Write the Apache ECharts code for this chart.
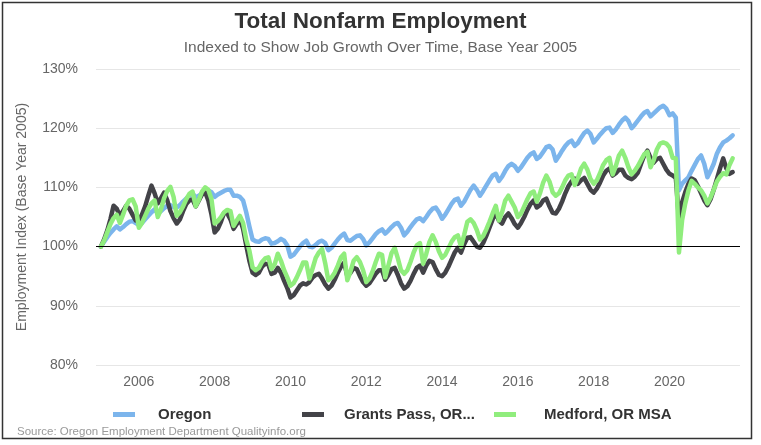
<!DOCTYPE html>
<html>
<head>
<meta charset="utf-8">
<title>Total Nonfarm Employment</title>
<script src="https://cdn.jsdelivr.net/npm/echarts@6/dist/echarts.min.js"></script>
<style>
  html, body { margin: 0; padding: 0; background: #fff; }
  #chart { width: 761px; height: 445px; }
</style>
</head>
<body>
<div id="chart"></div>
<script>
// monthly index values, Jan 2005 .. Sep 2021 (one row per year)
const oregon = [
  100.0, 100.8, 101.6, 102.3, 102.9, 103.4, 102.9, 103.3, 103.8, 104.2, 104.3, 104.0,
  103.6, 104.0, 104.6, 105.2, 105.8, 106.3, 105.6, 106.0, 106.5, 106.9, 107.0, 106.7,
  106.6, 107.0, 107.6, 108.1, 108.6, 109.0, 108.3, 108.6, 109.0, 109.4, 109.5, 109.2,
  108.4, 108.8, 109.1, 109.4, 109.6, 109.6, 108.6, 108.6, 108.4, 107.8, 105.8, 103.4,
  101.2, 100.9, 100.8, 101.2, 101.4, 101.3, 100.5, 100.6, 100.9, 101.3, 101.0, 100.2,
  98.3, 98.6, 99.3, 100.0, 100.6, 101.0, 100.0, 99.9, 100.3, 100.8, 101.0, 100.6,
  99.4, 99.8, 100.5, 101.2, 101.8, 102.2, 101.1, 101.0, 101.4, 101.8, 101.9, 101.3,
  100.2, 100.7, 101.4, 102.1, 102.6, 102.9, 102.2, 102.7, 103.3, 103.8, 104.0, 103.2,
  101.9, 102.5, 103.3, 104.0, 104.6, 104.8, 104.3, 105.0, 105.8, 106.4, 106.6, 105.8,
  104.7, 105.4, 106.3, 107.2, 107.9, 108.1, 106.9, 107.6, 108.6, 109.6, 110.3, 109.6,
  108.6, 109.4, 110.3, 111.2, 112.0, 112.3, 111.1, 111.8, 112.8, 113.6, 114.0, 113.6,
  112.8, 113.4, 114.2, 115.0, 115.6, 115.9, 114.8, 115.2, 116.0, 116.8, 117.0, 116.4,
  114.5, 115.3, 116.2, 117.0, 117.6, 117.9, 117.0, 117.5, 118.4, 119.2, 119.6, 119.0,
  117.6, 118.2, 118.9, 119.5, 120.0, 120.1, 119.2, 119.8, 120.6, 121.3, 121.8, 121.2,
  120.0, 120.6, 121.3, 122.0, 122.6, 122.9, 122.0, 122.5, 123.0, 123.5, 123.8, 123.3,
  122.2, 122.5, 121.8, 109.5, 110.6, 111.2, 111.7, 112.8, 113.8, 114.8, 115.4, 114.0,
  111.7, 112.8, 114.0, 115.7, 116.8, 117.6, 117.9, 118.3, 118.8
];
const grantsPass = [
  100.0, 101.2, 102.7, 104.6, 106.9, 106.4, 105.2, 106.0, 106.9, 106.4, 105.4, 104.4,
  104.4, 105.4, 106.8, 108.6, 110.3, 109.0, 107.3, 108.2, 109.1, 107.8, 106.0, 104.8,
  103.9, 104.6, 106.0, 107.2, 107.8, 108.0, 106.8, 107.8, 108.8, 109.2, 107.8, 105.4,
  102.4, 103.0, 104.2, 105.7, 105.6, 104.6, 103.0, 103.8, 104.7, 103.0, 100.2, 97.6,
  95.6, 95.2, 95.6, 96.6, 97.1, 97.0, 95.4, 95.6, 96.4, 95.6, 94.2, 93.0,
  91.4, 91.8, 92.6, 93.4, 93.8, 93.6, 94.0, 94.8, 95.2, 95.4, 94.6, 93.6,
  92.9, 93.4, 94.4, 95.6, 96.6, 97.3, 95.0, 95.6, 96.4, 96.2, 95.0, 94.0,
  93.4, 93.8, 94.6, 95.4, 96.0, 96.0, 94.4, 95.2, 96.2, 96.4, 95.2, 93.8,
  92.9, 93.3, 94.2, 95.4, 96.4, 96.8, 95.6, 96.8, 97.6, 97.4, 96.2, 95.2,
  95.0, 95.6, 96.6, 97.8, 99.0, 99.8, 99.0, 100.4, 101.5, 101.6, 100.8, 100.0,
  99.8, 100.6, 101.8, 103.2, 104.6, 105.7, 104.4, 103.9, 105.0, 105.6, 104.8, 103.8,
  103.2, 104.0, 105.0, 106.2, 107.2, 107.8, 106.6, 107.0, 107.8, 108.1, 106.8, 105.7,
  105.6, 106.4, 107.6, 109.0, 110.2, 111.0, 111.5, 110.6, 111.2, 111.6, 110.6, 109.6,
  109.1, 109.8, 110.8, 112.0, 112.8, 113.2, 112.0, 112.4, 113.0, 113.0, 112.0, 111.6,
  111.4, 111.8, 112.5, 114.0, 115.4, 116.2, 115.0, 114.2, 114.8, 115.0, 114.0, 113.0,
  112.3, 112.0, 111.6, 104.5, 107.5, 109.2, 110.6, 111.5, 111.2, 110.2, 109.0, 107.8,
  107.0, 108.0, 109.6, 111.4, 113.2, 114.9, 113.2, 112.3, 112.6
];
const medford = [
  100.0, 101.0, 102.4, 103.8, 104.8, 105.4, 104.0, 105.4, 106.9, 107.8, 108.0, 106.8,
  103.2, 104.0, 105.2, 106.4, 107.3, 107.8, 105.0, 106.3, 108.2, 109.4, 110.1, 108.4,
  105.2, 105.8, 106.8, 108.0, 108.9, 109.3, 106.8, 107.9, 109.3, 110.0, 109.6, 108.0,
  103.9, 104.3, 105.0, 105.8, 106.2, 106.0, 103.5, 104.4, 105.2, 104.0, 101.2, 99.3,
  96.5, 96.0, 96.4, 97.4, 98.0, 98.2, 96.2, 97.0, 98.8, 97.6, 96.0, 94.8,
  93.4, 93.8, 94.8, 96.0, 97.3, 97.3, 94.6, 96.3, 98.1, 99.0, 99.6, 97.2,
  94.3, 94.8, 95.6, 96.8, 98.2, 98.8, 94.3, 95.8, 97.6, 98.2, 97.4, 96.0,
  94.0, 94.6, 95.8, 97.4, 98.8, 98.6, 94.8, 96.8, 98.9, 99.8, 98.0, 96.0,
  95.4, 96.0, 97.4, 99.0, 100.2, 100.6, 97.1, 98.8, 100.8, 101.9, 100.8, 99.2,
  98.1, 98.6, 99.7, 100.8, 101.6, 101.9, 100.0, 102.0, 104.2, 104.6, 104.0, 102.8,
  101.2, 101.8, 102.9, 104.2, 105.6, 106.9, 104.4, 105.8, 107.8, 108.6, 107.6, 106.6,
  105.0, 105.6, 106.8, 108.0, 109.0, 109.3, 107.6, 109.0, 110.8, 112.0, 111.0, 109.2,
  108.6, 109.0, 110.0, 111.2, 112.0, 112.2, 110.4, 111.6, 113.2, 114.0, 113.0, 111.4,
  110.6, 111.2, 112.4, 113.8, 114.6, 115.0, 112.2, 113.6, 115.4, 116.2, 115.0, 113.4,
  112.2, 112.8, 113.6, 114.6, 115.6, 116.0, 113.4, 114.6, 116.4, 117.4, 117.6, 117.4,
  116.8, 115.0, 114.9, 99.0, 104.5, 107.3, 109.5, 111.1, 110.6, 110.0, 109.5, 108.6,
  107.3, 108.3, 109.6, 111.0, 111.8, 112.4, 112.2, 113.8, 114.9
];
const startYear = 2005;
const yearTicks = [2006, 2008, 2010, 2012, 2014, 2016, 2018, 2020];
const seriesNames = ['Oregon', 'Grants Pass, OR MSA', 'Medford, OR MSA'];
const legendLabels = ['Oregon', 'Grants Pass, OR...', 'Medford, OR MSA'];
const colors = ['#7cb5ec', '#434348', '#90ed7d'];

// month index -> decimal year on the x axis
const toPoints = (vals) => vals.map((v, i) => [startYear + i / 12, v]);

const myChart = echarts.init(document.getElementById('chart'));
const font = 'Liberation Sans, Arial, Helvetica, sans-serif';

// one legend per item so each sits at its own fixed slot
const legendLeft = [108, 297, 489];
const legendPad = [18, 15, 23];
const legends = seriesNames.map((name, k) => ({
  left: legendLeft[k], top: 402,
  itemWidth: 22, itemHeight: 5,
  icon: 'rect',
  data: [name],
  formatter: () => legendLabels[k],
  textStyle: {
    fontSize: 15, fontWeight: 'bold', color: '#333',
    padding: [0, 0, 0, legendPad[k]], fontFamily: font
  }
}));

const option = {
  animation: false,
  textStyle: { fontFamily: font },
  title: [
    {
      text: 'Total Nonfarm Employment',
      left: 'center', top: 5,
      textStyle: { fontSize: 22.5, fontWeight: 'bold', color: '#333', fontFamily: font }
    },
    {
      text: 'Indexed to Show Job Growth Over Time, Base Year 2005',
      left: 'center', top: 35,
      textStyle: { fontSize: 15.5, fontWeight: 'normal', color: '#666', fontFamily: font }
    },
    {
      text: 'Source: Oregon Employment Department Qualityinfo.org',
      left: 12, top: 421,
      textStyle: { fontSize: 11.5, fontWeight: 'normal', color: '#999', fontFamily: font }
    }
  ],
  graphic: [{
    type: 'rect',
    shape: { x: 2.5, y: 2.5, width: 749, height: 436 },
    style: { fill: 'none', stroke: '#333', lineWidth: 1.5 },
    silent: true
  }],
  legend: legends,
  grid: { left: 96, right: 21, top: 69, bottom: 80 },
  xAxis: {
    type: 'value',
    min: 2004.87, max: 2021.86,
    axisLine: { show: false },
    axisTick: { show: false },
    splitLine: { show: false },
    axisLabel: {
      customValues: yearTicks,
      formatter: (v) => String(Math.round(v)),
      fontSize: 14, color: '#666', margin: 10
    }
  },
  yAxis: {
    type: 'value',
    min: 80, max: 130, interval: 10,
    name: 'Employment Index (Base Year 2005)',
    nameLocation: 'middle', nameGap: 67,
    nameTextStyle: { fontSize: 14, color: '#666' },
    axisLine: { show: false },
    axisTick: { show: false },
    axisLabel: { formatter: '{value}%', fontSize: 14, color: '#666', margin: 18 },
    splitLine: { lineStyle: { color: '#e6e6e6', width: 1 } }
  },
  series: [oregon, grantsPass, medford].map((vals, k) => ({
    name: seriesNames[k],
    type: 'line',
    data: toPoints(vals),
    showSymbol: false,
    symbol: 'none',
    color: colors[k],
    lineStyle: { width: 4.5, color: colors[k], cap: 'round', join: 'round' },
    emphasis: { disabled: true },
    markLine: k === 0 ? {
      silent: true,
      symbol: ['none', 'none'],
      label: { show: false },
      lineStyle: { color: '#000', width: 1, type: 'solid' },
      data: [{ yAxis: 100 }]
    } : undefined
  }))
};

myChart.setOption(option);
</script>
</body>
</html>
